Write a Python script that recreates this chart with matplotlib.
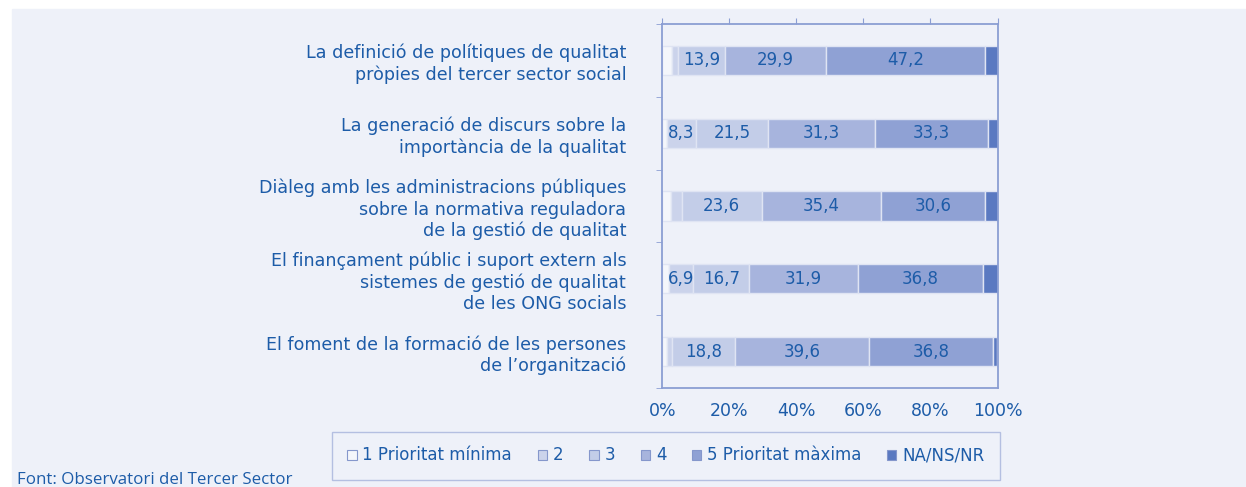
import numpy as np
import matplotlib.pyplot as plt
from matplotlib.patches import Patch, Rectangle

# Data (percent of respondents)
categories = [
    "La definició de polítiques de qualitat\npròpies del tercer sector social",
    "La generació de discurs sobre la\nimportància de la qualitat",
    "Diàleg amb les administracions públiques\nsobre la normativa reguladora\nde la gestió de qualitat",
    "El finançament públic i suport extern als\nsistemes de gestió de qualitat\nde les ONG socials",
    "El foment de la formació de les persones\nde l’organització",
]
series_names = ["1 Prioritat mínima", "2", "3", "4", "5 Prioritat màxima", "NA/NS/NR"]
p1 = [3.0, 1.5, 2.5, 2.1, 1.4]
p2 = [1.8, 8.3, 3.3, 6.9, 1.4]
p3 = [13.9, 21.5, 23.6, 16.7, 18.8]
p4 = [29.9, 31.3, 35.4, 31.9, 39.6]
p5 = [47.2, 33.3, 30.6, 36.8, 36.8]
pna = [3.7, 2.9, 3.8, 4.4, 1.4]
tick_labels = ["0%", "20%", "40%", "60%", "80%", "100%"]

colors = ["#f4f6fb", "#cbd3eb", "#c3cde8", "#a7b4dd", "#8fa1d4", "#5a79c1"]
text_col = "#1d5ca8"
line_col = "#8b9ed3"
bg = "#eef1f9"

fig = plt.figure(figsize=(12.46, 4.87), dpi=100)
fig.patch.set_facecolor("white")
fig.add_artist(Rectangle((12 / 1246, 0), 1 - 12 / 1246, 1 - 9 / 487,
                         transform=fig.transFigure, color=bg, zorder=-10))

ax = fig.add_axes([662.3 / 1246, 1 - 388 / 487, 335.2 / 1246, 364 / 487])
ax.set_facecolor(bg)

data = np.array([p1, p2, p3, p4, p5, pna])
totals = data.sum(axis=0)
shares = data / totals * 100  # 100% stacked, like the original

y = np.arange(len(categories))
left = np.zeros(len(categories))
for i, name in enumerate(series_names):
    ax.barh(y, shares[i], left=left, height=0.4, color=colors[i],
            edgecolor="#dfe4f3", linewidth=1.0, label=name)
    for j in range(len(categories)):
        v = data[i, j]
        if i in (1, 2, 3, 4) and v >= 5:
            ax.text(left[j] + shares[i, j] / 2, y[j], f"{v:.1f}".replace(".", ","),
                    ha="center", va="center", fontsize=12, color=text_col)
    left += shares[i]

ax.set_xlim(0, 100)
ax.set_ylim(len(categories) - 0.5, -0.5)

for s in ax.spines.values():
    s.set_color(line_col)
    s.set_linewidth(1.3)

ax.set_xticks(np.arange(0, 101, 20))
ax.set_xticklabels(tick_labels, fontsize=12.5, color=text_col)
ax.tick_params(axis="x", top=True, bottom=False, labelbottom=True, labeltop=False,
               direction="out", length=4, color=line_col, pad=6)

ax.set_yticks(y)
ax.set_yticklabels(categories, fontsize=12.6, color=text_col, linespacing=1.22)
ax.tick_params(axis="y", which="major", length=0, pad=26)
ax.set_yticks(np.arange(-0.5, len(categories)), minor=True)
ax.tick_params(axis="y", which="minor", length=4, color=line_col, direction="out")

handles = [Patch(facecolor=c, edgecolor="#8597cc", linewidth=0.8) for c in colors]
leg = fig.legend(handles, series_names, loc="center",
                 bbox_to_anchor=(666 / 1246, 1 - 455.5 / 487), ncol=6,
                 frameon=True, fancybox=False, edgecolor="#a6b3dc", facecolor=bg,
                 fontsize=12, handlelength=0.55, handleheight=0.55,
                 handletextpad=0.35, columnspacing=1.55, borderpad=0.9)
leg.get_frame().set_linewidth(1.0)
for t in leg.get_texts():
    t.set_color(text_col)

fig.text(17 / 1246, 1 - 480 / 487, "Font: Observatori del Tercer Sector",
         fontsize=12.2, color=text_col, family="Open Sans", va="center")

fig.savefig("out.png", dpi=100, facecolor=fig.get_facecolor())
